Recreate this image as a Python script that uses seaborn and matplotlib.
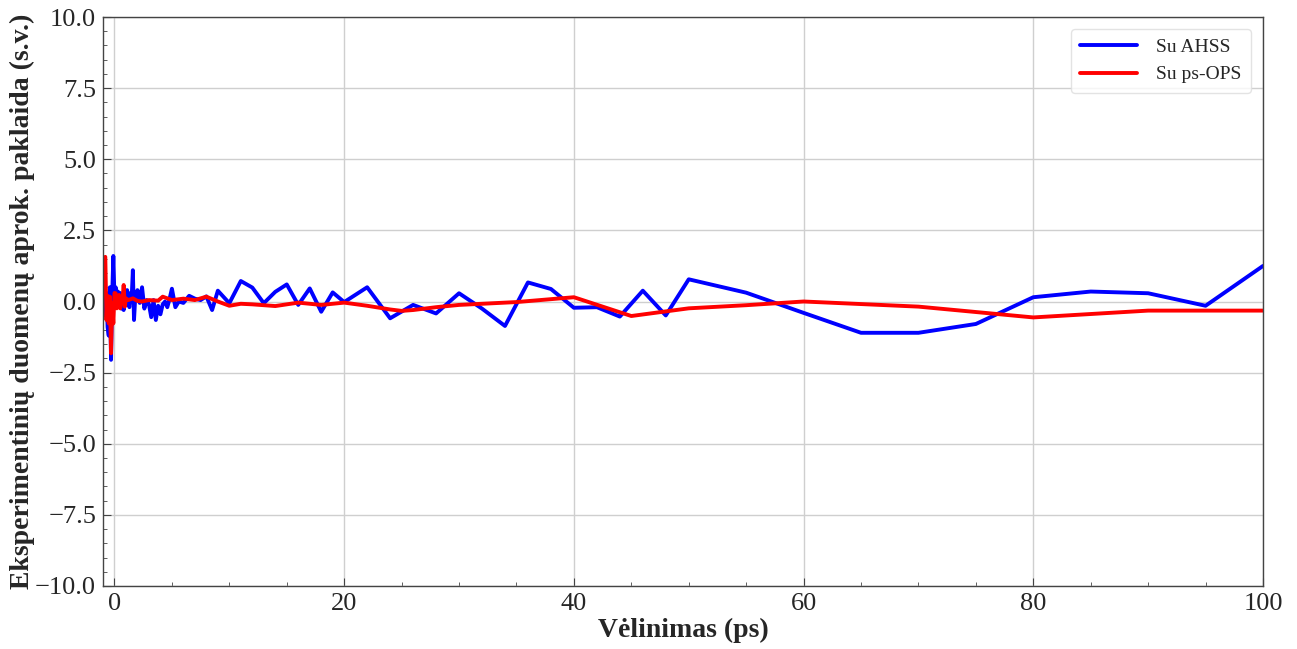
import matplotlib
matplotlib.use("Agg")
import matplotlib.pyplot as plt
from matplotlib.ticker import MultipleLocator
import pandas as pd
import seaborn as sns

# Residuals of the fit with the AHSS model
ahss_delay = [-0.8, -0.7, -0.6, -0.5, -0.4, -0.3, -0.2, -0.1, 0.0, 0.1, 0.2, 0.3, 0.4, 0.5,
              0.6, 0.7, 0.8, 0.9, 1.0, 1.1, 1.2, 1.3, 1.4, 1.5, 1.6, 1.7, 1.8, 2.0, 2.2, 2.4,
              2.6, 2.8, 3.0, 3.2, 3.4, 3.6, 3.8, 4.0, 4.2, 4.4, 4.6, 4.8, 5.0, 5.3, 5.6, 6.0,
              6.5, 7.0, 7.5, 8.0, 8.5, 9, 10, 11, 12, 13, 14, 15, 16, 17, 18, 19, 20, 22, 24,
              26, 28, 30, 32, 34, 36, 38, 40, 42, 44, 46, 48, 50, 55, 60, 65, 70, 75, 80, 85,
              90, 95, 100]
ahss_resid = [-0.5, 0.3, -0.9, -1.2, 0.5, -2.05, 0.2, 1.6, 0.1, 0.5, -0.2, 0.35, 0.0, 0.3,
              -0.25, 0.2, -0.3, 0.1, 0.25, 0.4, -0.1, -0.2, 0.3, 0.15, 1.1, -0.65, 0.1, 0.4,
              -0.05, 0.5, -0.25, 0.05, -0.1, -0.55, 0.05, -0.65, -0.15, -0.45, -0.1, 0.0,
              -0.2, 0.1, 0.45, -0.2, 0.0, -0.05, 0.2, 0.1, 0.05, 0.18, -0.3, 0.38, -0.06,
              0.72, 0.49, -0.06, 0.34, 0.6, -0.12, 0.46, -0.36, 0.32, -0.02, 0.5, -0.59,
              -0.12, -0.42, 0.29, -0.25, -0.86, 0.67, 0.44, -0.22, -0.2, -0.53, 0.38, -0.49,
              0.78, 0.31, -0.4, -1.1, -1.1, -0.79, 0.15, 0.35, 0.29, -0.15, 1.25]

# Residuals of the fit with the ps-OPS model
ops_delay = [-0.8, -0.7, -0.6, -0.5, -0.4, -0.3, -0.2, -0.1, 0.0, 0.1, 0.2, 0.3, 0.4, 0.5,
             0.6, 0.7, 0.8, 0.9, 1.0, 1.2, 1.6, 2.0, 2.4, 3.0, 3.8, 4.2, 5.0, 6.0, 7.0, 8.0,
             9, 10, 11, 12, 14, 16, 18, 20, 22, 24, 25, 26, 28, 30, 35, 40, 45, 50, 55, 60,
             70, 80, 90, 100]
ops_resid = [1.57, -0.65, 0.2, -0.77, 0.17, -1.82, -0.06, -0.77, 0.3, 0.29, -0.24, 0.1,
             0.23, -0.24, 0.0, 0.05, 0.58, -0.18, 0.11, 0.05, 0.11, 0.02, 0.0, 0.05, 0.03,
             0.17, 0.05, 0.1, 0.05, 0.17, 0.0, -0.15, -0.08, -0.1, -0.16, -0.04, -0.12,
             -0.04, -0.15, -0.28, -0.33, -0.3, -0.2, -0.12, -0.02, 0.15, -0.51, -0.24,
             -0.13, 0.0, -0.18, -0.56, -0.32, -0.32]

y_ticks = [-10.0, -7.5, -5.0, -2.5, 0.0, 2.5, 5.0, 7.5, 10.0]
x_ticks = [0, 20, 40, 60, 80, 100]

sns.set_style("white", {"xtick.bottom": True, "ytick.left": True})
plt.rcParams["font.family"] = ["Liberation Serif", "DejaVu Serif"]
plt.rcParams["axes.unicode_minus"] = True

df_ahss = pd.DataFrame({"delay": ahss_delay, "resid": ahss_resid})
df_ops = pd.DataFrame({"delay": ops_delay, "resid": ops_resid})

fig, ax = plt.subplots(figsize=(12.97, 6.49), dpi=100)
fig.subplots_adjust(left=103 / 1297, right=1263 / 1297, top=1 - 17 / 649, bottom=1 - 586 / 649)

sns.lineplot(data=df_ahss, x="delay", y="resid", ax=ax, color="#0000ff",
             linewidth=2.8, label="Su AHSS", sort=False)
sns.lineplot(data=df_ops, x="delay", y="resid", ax=ax, color="#ff0000",
             linewidth=2.8, label="Su ps-OPS", sort=False)

ax.set_xlim(-1.0, 100)
ax.set_ylim(-10, 10)
ax.set_xticks(x_ticks)
ax.set_yticks(y_ticks)
ax.set_yticklabels([f"{v:.1f}".replace("-", "\u2212") for v in y_ticks])
ax.xaxis.set_minor_locator(MultipleLocator(5))
ax.yaxis.set_minor_locator(MultipleLocator(0.5))

ax.grid(True, which="major", color="#cfcfcf", linewidth=1.0)
ax.set_axisbelow(True)
for sp in ax.spines.values():
    sp.set_color("#444444")
    sp.set_linewidth(1.0)

ax.tick_params(axis="both", which="major", direction="in", length=6, width=0.8,
               labelsize=19, color="#444444", bottom=True, left=True, top=False, right=False)
ax.tick_params(axis="both", which="minor", direction="in", length=3, width=0.6,
               color="#444444", bottom=True, left=True, top=False, right=False)
ax.tick_params(axis="x", which="major", pad=5)
ax.tick_params(axis="y", which="major", pad=5)

ax.set_xlabel("Vėlinimas (ps)", fontsize=20, fontweight="bold", labelpad=2)
ax.set_ylabel("Eksperimentinių duomenų aprok. paklaida (s.v.)", fontsize=20,
              fontweight="bold", labelpad=0)

leg = ax.legend(loc="upper right", fontsize=14, frameon=True, fancybox=True,
                handlelength=2.9, handletextpad=1.0, borderpad=0.5, labelspacing=0.5,
                borderaxespad=0.6)
leg.get_frame().set_edgecolor("#dddddd")
leg.get_frame().set_linewidth(1.0)

fig.savefig("out.png", dpi=100)
